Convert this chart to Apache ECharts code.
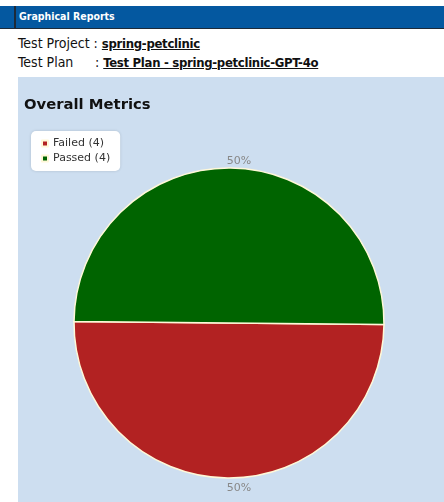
<!DOCTYPE html>
<html>
<head>
<meta charset="utf-8">
<script src="https://cdn.jsdelivr.net/npm/echarts@6/dist/echarts.min.js"></script>
<style>
  body { margin: 0; background: #fff; font-family: "DejaVu Sans Condensed", "DejaVu Sans", sans-serif; }
  #header {
    position: absolute; left: 0; top: 6px; width: 444px; height: 22px;
    background: #0458a0; border-bottom: 1px solid #1d2a38;
  }
  #header .bar { position: absolute; left: 14px; top: 0; width: 2px; height: 22px; background: #1d2a38; }
  #header span {
    position: absolute; left: 19px; top: 4px; color: #fff; font-weight: bold; font-size: 10.5px;
  }
  .info { position: absolute; left: 18px; font-size: 14px; color: #111; white-space: nowrap; }
  .info .lbl { display: inline-block; width: 77px; }
  .info a { color: #111; font-weight: bold; font-size: 13px; text-decoration: underline; letter-spacing: -0.3px; }
  #chart { position: absolute; left: 18px; top: 77px; width: 426px; height: 425px; background: #cddef0; }
</style>
</head>
<body>
<div id="header"><div class="bar"></div><span>Graphical Reports</span></div>
<div class="info" style="top:35px;">Test Project : <a>spring-petclinic</a></div>
<div class="info" style="top:54px;"><span class="lbl">Test Plan</span>: <a>Test Plan - spring-petclinic-GPT-4o</a></div>
<div id="chart"></div>
<script>
//饼图数据
var statusNames = ["Failed", "Passed"];
var statusCounts = [4, 4];
var statusColors = ["#b22222", "#006400"];

var pieCenter = [211, 246];
var pieRadius = 155;

var myChart = echarts.init(document.getElementById("chart"));
var pieData = [];
for (var i = 0; i < statusNames.length; i++) {
    pieData.push({
        name: statusNames[i] + " (" + statusCounts[i] + ")",
        value: statusCounts[i],
        itemStyle: { color: statusColors[i] }
    });
}
var option = {
    title: {
        text: "Overall Metrics",
        left: 1, top: 16,
        textStyle: { fontSize: 14.8, fontWeight: "bold", color: "#111", fontFamily: "DejaVu Sans" }
    },
    legend: {
        orient: "vertical",
        left: 13, top: 54,
        backgroundColor: "#fff",
        borderRadius: 5,
        padding: [7, 10, 7, 10],
        itemWidth: 6, itemHeight: 6, itemGap: 4,
        icon: "rect",
        shadowColor: "rgba(0,0,0,0.15)", shadowBlur: 3,
        textStyle: { fontSize: 11, color: "#333", fontFamily: "DejaVu Sans" },
        data: pieData.map(function (d) { return d.name; })
    },
    series: [{
        type: "pie",
        center: pieCenter,
        radius: pieRadius,
        startAngle: -0.6,
        clockwise: true,
        animation: false,
        itemStyle: { borderColor: "#fff8d8", borderWidth: 1.5 },
        label: {
            show: true,
            position: "outside",
            formatter: "{d}%",
            color: "#888",
            fontSize: 11,
            fontFamily: "DejaVu Sans"
        },
        labelLine: { show: false, length: 4, length2: 0 },
        labelLayout: function (params) {
            // 标签放在扇区中点外侧
            var up = params.dataIndex === 1;
            return {
                x: pieCenter[0] + 10,
                y: up ? pieCenter[1] - pieRadius - 7 : pieCenter[1] + pieRadius + 10,
                align: "center",
                verticalAlign: "middle"
            };
        },
        data: pieData
    }]
};
myChart.setOption(option);
</script>
</body>
</html>
